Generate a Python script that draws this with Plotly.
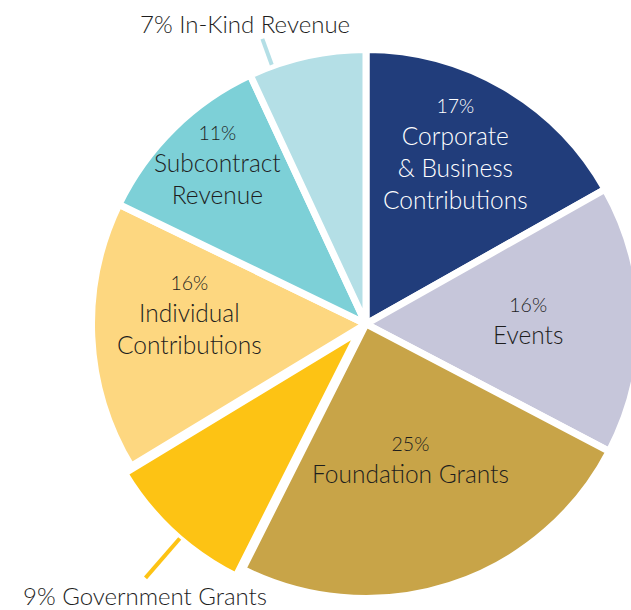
import math
import plotly.graph_objects as go

# ---- data ----
names = ["Corporate & Business Contributions", "Events", "Foundation Grants",
         "Government Grants", "Individual Contributions", "Subcontract Revenue",
         "In-Kind Revenue"]
values = [17, 16, 25, 9, 16, 11, 7]
label_lines = [["Corporate", "&amp; Business", "Contributions"], ["Events"],
               ["Foundation Grants"], ["Government Grants"],
               ["Individual", "Contributions"], ["Subcontract", "Revenue"],
               ["In-Kind Revenue"]]
colors = ["#213d7b", "#c6c6da", "#c8a448", "#fdc314", "#fdd780", "#7dd0d7", "#b4dfe6"]

# ---- layout / style settings ----
W, H = 660, 610
CX, CY = 366.0, 324.0          # pie centre in px
R = 274.5                      # pie radius in px
pulls = [0, 0, 0, 0.035, 0, 0, 0]
FONT = "Lato"
WEIGHT = 300
TXT = "#1e1e1e"
inside = [True, True, True, False, True, True, False]
text_colors = ["white", TXT, TXT, TXT, TXT, TXT, TXT]
# (radius as fraction of R, angle nudge in degrees) for label centres
label_place = [(0.70, -2.4), (0.59, 0.0), (0.523, -0.3), (1.275, -3.6),
               (0.645, 5.6), (0.792, 1.4), (1.18, -9.5)]
# leader lines: (angle nudge, inner r frac, outer r frac)
leaders = {3: (-1.8, 1.035, 1.225), 6: (-7.5, 1.005, 1.105)}

maxpull = max(pulls)
half = R * (1 + maxpull)
dom_x = [(CX - half) / W, (CX + half) / W]
dom_y = [(H - CY - half) / H, (H - CY + half) / H]

total = sum(values)
mids, acc = [], 0
for v in values:
    mids.append((acc + v / 2) / total * 360)
    acc += v


def to_paper(r, ang):
    a = math.radians(ang)
    px = CX + r * math.sin(a)
    py = CY - r * math.cos(a)
    return px / W, 1 - py / H


fig = go.Figure(go.Pie(
    labels=names, values=values, sort=False, direction="clockwise", rotation=0,
    marker=dict(colors=colors, line=dict(color="white", width=7)),
    pull=pulls, textinfo="none", hoverinfo="label+percent",
    domain=dict(x=dom_x, y=dom_y), showlegend=False,
))

annotations, shapes = [], []
for i, v in enumerate(values):
    frac, nudge = label_place[i]
    x, y = to_paper(R * frac, mids[i] + nudge)
    if inside[i]:
        text = (f"<span style='font-size:19.5px'>{v}%</span><br>"
                + "<br>".join(label_lines[i]))
        size = 24.5
    else:
        text = f"{v}% " + " ".join(label_lines[i])
        size = 24
    annotations.append(dict(x=x, y=y, xref="paper", yref="paper", text=text,
                            showarrow=False, xanchor="center", yanchor="middle",
                            font=dict(family=FONT, size=size, color=text_colors[i],
                                      weight=WEIGHT)))
for i, (nudge, r0, r1) in leaders.items():
    x0, y0 = to_paper(R * r0, mids[i] + nudge)
    x1, y1 = to_paper(R * r1, mids[i] + nudge)
    shapes.append(dict(type="line", xref="paper", yref="paper", x0=x0, y0=y0,
                       x1=x1, y1=y1, line=dict(color=colors[i], width=4)))

fig.update_layout(width=W, height=H, margin=dict(l=0, r=0, t=0, b=0),
                  paper_bgcolor="white", plot_bgcolor="white",
                  annotations=annotations, shapes=shapes,
                  font=dict(family=FONT))

fig.write_html("out.html", config={"displayModeBar": False}, post_script=(
    "document.documentElement.style.overflow='hidden';"
    "document.body.style.margin='0';document.body.style.overflow='hidden';"))
